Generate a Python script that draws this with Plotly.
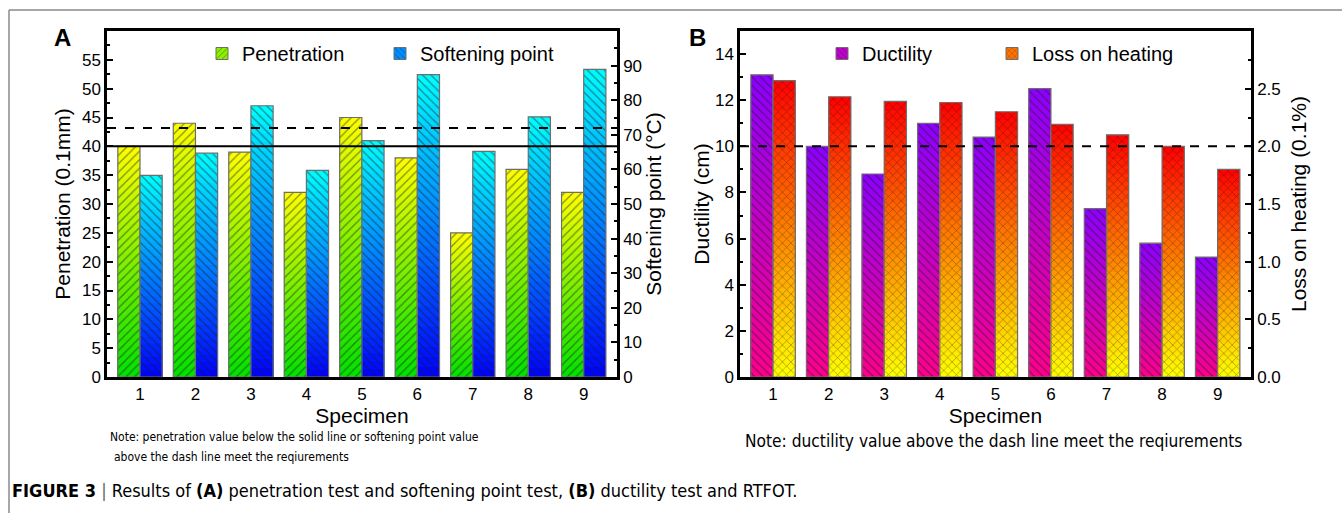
import plotly.graph_objects as go

# ---------------- data ----------------
specimens = [1, 2, 3, 4, 5, 6, 7, 8, 9]
penetration = [40, 44, 39, 32, 45, 38, 25, 36, 32]              # 0.1 mm
softening_point = [58.3, 64.7, 78.4, 59.7, 68.3, 87.4, 65.2, 75.2, 88.9]  # °C
ductility = [13.1, 10.0, 8.8, 11.0, 10.4, 12.5, 7.3, 5.8, 5.2]  # cm
loss_on_heating = [2.57, 2.43, 2.39, 2.38, 2.30, 2.19, 2.10, 2.00, 1.80]  # 0.1 %
penetration_limit = 40
softening_limit = 72
ductility_limit = 10

pen_ticks = [0, 5, 10, 15, 20, 25, 30, 35, 40, 45, 50, 55]
soft_ticks = [0, 10, 20, 30, 40, 50, 60, 70, 80, 90]
duct_ticks = [0, 2, 4, 6, 8, 10, 12, 14]
loss_ticks = [0.0, 0.5, 1.0, 1.5, 2.0, 2.5]

W, H = 1342, 513
FONT = "Liberation Sans, Arial, sans-serif"
NARROW = "Liberation Sans Narrow, Arial Narrow, DejaVu Sans Condensed, sans-serif"


def lerp(c0, c1, t):
    return "rgb(%d,%d,%d)" % tuple(round(a + (b - a) * t) for a, b in zip(c0, c1))


series = [
    dict(name="Penetration", vals=penetration, xa="x", ya="y", offset=-0.4,
         bottom=(0, 225, 0), top=(255, 255, 0), shape="/", legend="legend", lx=242),
    dict(name="Softening point", vals=softening_point, xa="x", ya="y2", offset=0.0,
         bottom=(0, 0, 255), top=(0, 255, 255), shape="\\", legend="legend2", lx=420),
    dict(name="Ductility", vals=ductility, xa="x2", ya="y3", offset=-0.4,
         bottom=(255, 0, 140), top=(140, 0, 255), shape="\\", legend="legend3", lx=862),
    dict(name="Loss on heating", vals=loss_on_heating, xa="x2", ya="y4", offset=0.0,
         bottom=(255, 255, 0), top=(255, 0, 0), shape="x", legend="legend4", lx=1032),
]

N = 30
fig = go.Figure()
for s in series:
    for k in range(N):
        frac = (N - k) / N
        t = (N - k - 0.5) / N
        col = lerp(s["bottom"], s["top"], t)
        fig.add_trace(go.Bar(
            x=specimens, y=[v * frac for v in s["vals"]],
            xaxis=s["xa"], yaxis=s["ya"], width=0.4, offset=s["offset"],
            marker=dict(color=col, line=dict(width=0),
                        pattern=dict(shape=s["shape"], fgcolor="#1a1a1a", size=6, solidity=0.2)),
            showlegend=False, hoverinfo="skip"))
    # outline
    fig.add_trace(go.Bar(
        x=specimens, y=s["vals"], xaxis=s["xa"], yaxis=s["ya"], width=0.4, offset=s["offset"],
        marker=dict(color="rgba(0,0,0,0)", line=dict(color="#6e6e6e", width=1.2)),
        showlegend=False, name=s["name"]))
    # legend entry
    fig.add_trace(go.Bar(
        x=[None], y=[None], xaxis=s["xa"], yaxis=s["ya"], name=s["name"], legend=s["legend"],
        marker=dict(color=lerp(s["bottom"], s["top"], 0.55), line=dict(color="#6e6e6e", width=1),
                    pattern=dict(shape=s["shape"], fgcolor="#1a1a1a", size=5, solidity=0.2))))

axis_common = dict(showline=True, linecolor="black", linewidth=2.5, showgrid=False, zeroline=False,
                   automargin=False,
                   ticks="inside", ticklen=6, tickwidth=2, tickcolor="black",
                   tickfont=dict(size=17, color="black", family=FONT),
                   title_font=dict(size=21, color="black", family=FONT))

ydom = [1 - 377 / H, 1 - 31 / H]

legends = {}
for s in series:
    legends[s["legend"]] = dict(orientation="h", x=(s["lx"] - 40) / W, y=1 - 34 / H,
                                xanchor="left", yanchor="top", bgcolor="rgba(0,0,0,0)",
                                font=dict(size=20, color="black", family=FONT), itemwidth=30)

fig.update_layout(
    width=W, height=H, margin=dict(l=0, r=0, t=0, b=0, autoexpand=False),
    paper_bgcolor="white", plot_bgcolor="white", barmode="overlay",
    font=dict(family=FONT, color="black"),
    xaxis=dict(axis_common, domain=[107 / W, 617 / W], range=[0.405, 9.6], tickvals=specimens,
               ticks="", mirror=True, anchor="y", title=dict(text="Specimen", standoff=3)),
    yaxis=dict(axis_common, domain=ydom, range=[0, 60], tickvals=pen_ticks, anchor="x",
               minor=dict(ticks="inside", ticklen=3, tickwidth=2, tickcolor="black", dtick=2.5, tick0=0),
               title=dict(text="Penetration (0.1mm)", standoff=6)),
    yaxis2=dict(axis_common, domain=ydom, range=[0, 100], tickvals=soft_ticks, anchor="x",
                overlaying="y", side="right",
                minor=dict(ticks="inside", ticklen=3, tickwidth=2, tickcolor="black", dtick=5, tick0=0),
                title=dict(text="Softening point (°C)", standoff=2)),
    xaxis2=dict(axis_common, domain=[740 / W, 1251 / W], range=[0.405, 9.6], tickvals=specimens,
                ticks="", mirror=True, anchor="y3", title=dict(text="Specimen", standoff=3)),
    yaxis3=dict(axis_common, domain=ydom, range=[0, 15], tickvals=duct_ticks, anchor="x2",
                minor=dict(ticks="inside", ticklen=3, tickwidth=2, tickcolor="black", dtick=1, tick0=0),
                title=dict(text="Ductility (cm)", standoff=0)),
    yaxis4=dict(axis_common, domain=ydom, range=[0, 3], tickvals=loss_ticks, tickformat=".1f",
                anchor="x2", overlaying="y3", side="right",
                minor=dict(ticks="inside", ticklen=3, tickwidth=2, tickcolor="black", dtick=0.25, tick0=0),
                title=dict(text="Loss on heating (0.1%)", standoff=12)),
    **legends,
)

shapes = [
    dict(type="line", xref="x domain", x0=0, x1=1, yref="y", y0=penetration_limit, y1=penetration_limit,
         line=dict(color="black", width=2)),
    dict(type="line", xref="x domain", x0=0, x1=1, yref="y2", y0=softening_limit, y1=softening_limit,
         line=dict(color="black", width=2, dash="dash")),
    dict(type="line", xref="x2 domain", x0=0, x1=1, yref="y3", y0=ductility_limit, y1=ductility_limit,
         line=dict(color="black", width=2, dash="dash")),
    # outer frame
    dict(type="line", xref="paper", yref="paper", x0=9 / W, x1=1, y0=1 - 10 / H, y1=1 - 10 / H,
         line=dict(color="#8a8a8a", width=1.5)),
    dict(type="line", xref="paper", yref="paper", x0=9 / W, x1=9 / W, y0=0, y1=1 - 10 / H,
         line=dict(color="#8a8a8a", width=1.5)),
]
fig.update_layout(shapes=shapes)

annotations = [
    dict(text="<b>A</b>", x=62 / W, y=1 - 37 / H, xref="paper", yref="paper", showarrow=False,
         font=dict(size=24, family=FONT, color="black"), xanchor="center", yanchor="middle"),
    dict(text="<b>B</b>", x=697 / W, y=1 - 37 / H, xref="paper", yref="paper", showarrow=False,
         font=dict(size=24, family=FONT, color="black"), xanchor="center", yanchor="middle"),
    dict(text="Note: penetration value below the solid line or softening point value",
         x=108 / W, y=1 - 437 / H, xref="paper", yref="paper", showarrow=False, align="left",
         font=dict(size=12, family=NARROW, color="black"), xanchor="left", yanchor="middle"),
    dict(text="above the dash line meet the reqiurements",
         x=112 / W, y=1 - 457 / H, xref="paper", yref="paper", showarrow=False, align="left",
         font=dict(size=12, family=NARROW, color="black"), xanchor="left", yanchor="middle"),
    dict(text="Note: ductility value above the dash line meet the reqiurements",
         x=993 / W, y=1 - 441 / H, xref="paper", yref="paper", showarrow=False,
         font=dict(size=17.2, family=NARROW, color="black"), xanchor="center", yanchor="middle"),
    dict(text="<b>FIGURE 3</b> <span style='color:#666'>|</span> Results of <b>(A)</b> penetration test and softening point test, <b>(B)</b> ductility test and RTFOT.",
         x=10 / W, y=1 - 490 / H, xref="paper", yref="paper", showarrow=False, align="left",
         font=dict(size=18, family=NARROW, color="black"), xanchor="left", yanchor="middle"),
]
fig.update_layout(annotations=annotations)

fig.write_html("out.html")
